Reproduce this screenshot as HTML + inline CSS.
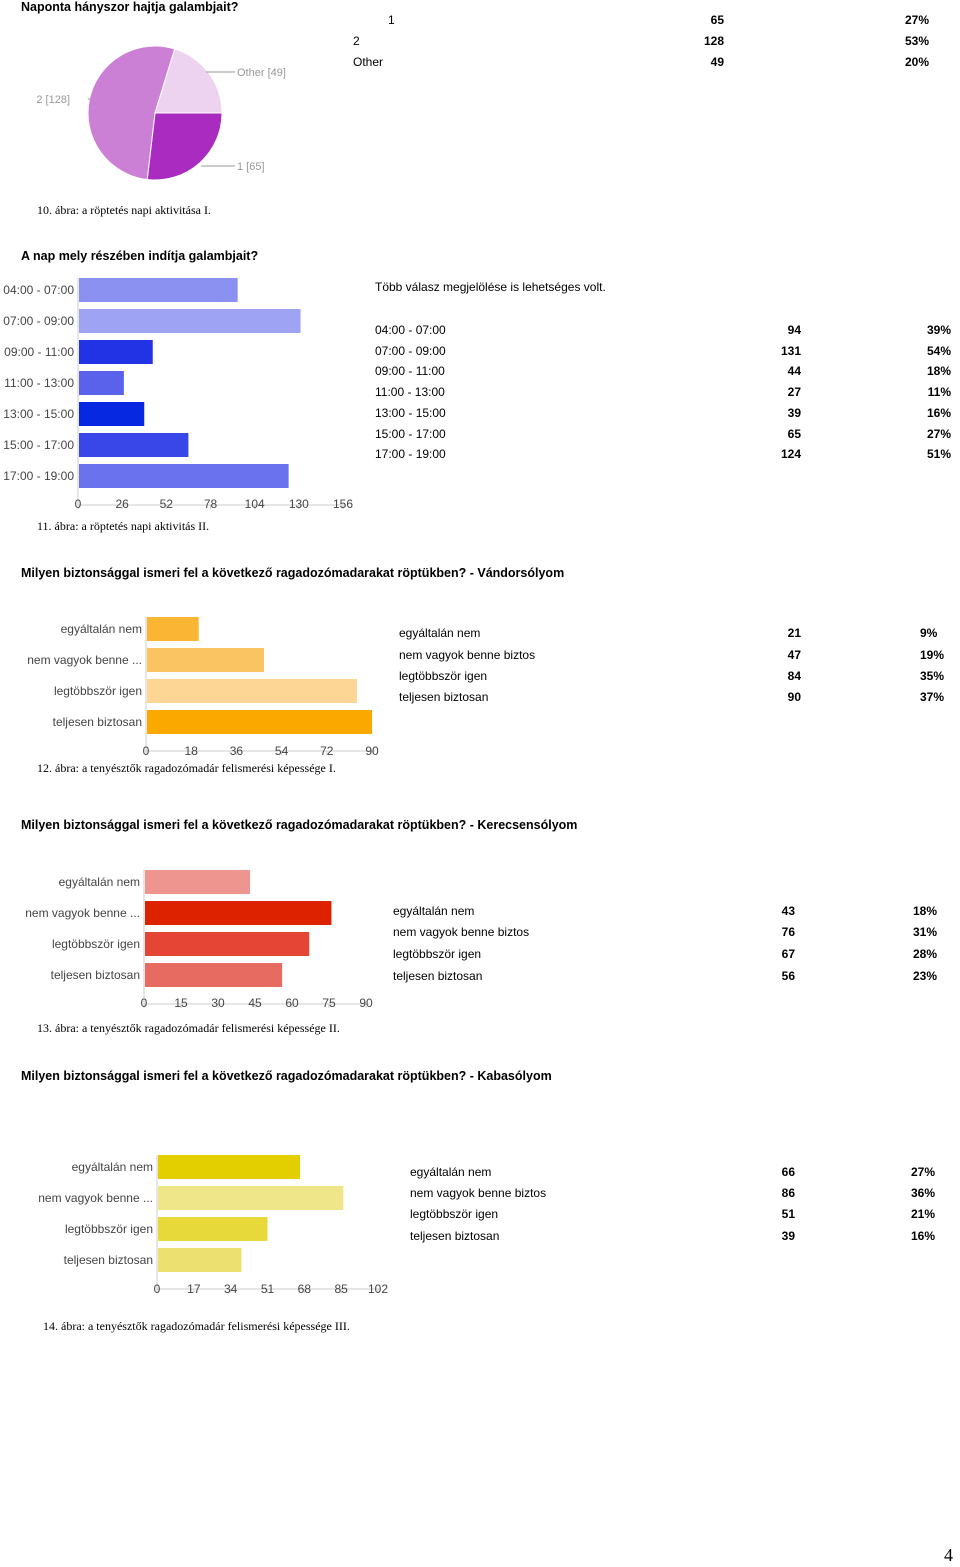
<!DOCTYPE html>
<html><head><meta charset="utf-8">
<style>
body{margin:0;width:960px;height:1567px;background:#fff;position:relative;font-family:"Liberation Sans",Arial,sans-serif;overflow:hidden}
.a{position:absolute;white-space:nowrap}
.h{font-weight:bold;font-size:12.5px;color:#000}
.cap{font-family:"Liberation Serif",serif;font-size:12px;color:#000}
.t{font-size:12px;color:#000}
.b{font-weight:bold}
.r{text-align:right}
svg{position:absolute;left:0;top:0}
</style></head><body>
<div class="a h" style="left:21px;top:0px">Naponta hányszor hajtja galambjait?</div>
<div class="a t" style="left:388px;top:13px">1</div>
<div class="a t b r" style="left:660px;width:64px;top:13px">65</div>
<div class="a t b r" style="left:860px;width:69px;top:13px">27%</div>
<div class="a t" style="left:353px;top:34px">2</div>
<div class="a t b r" style="left:660px;width:64px;top:34px">128</div>
<div class="a t b r" style="left:860px;width:69px;top:34px">53%</div>
<div class="a t" style="left:353px;top:55px">Other</div>
<div class="a t b r" style="left:660px;width:64px;top:55px">49</div>
<div class="a t b r" style="left:860px;width:69px;top:55px">20%</div>
<div class="a cap" style="left:37px;top:203px">10. ábra: a röptetés napi aktivitása I.</div>

<div class="a h" style="left:21px;top:249px">A nap mely részében indítja galambjait?</div>
<div class="a t" style="left:375px;top:280px">Több válasz megjelölése is lehetséges volt.</div>
<div id="tbl2"></div>
<div class="a cap" style="left:37px;top:519px">11. ábra: a röptetés napi aktivitás II.</div>

<div class="a h" style="left:21px;top:566px">Milyen biztonsággal ismeri fel a következő ragadozómadarakat röptükben? - Vándorsólyom</div>
<div class="a cap" style="left:37px;top:761px">12. ábra: a tenyésztők ragadozómadár felismerési képessége I.</div>
<div class="a h" style="left:21px;top:818px">Milyen biztonsággal ismeri fel a következő ragadozómadarakat röptükben? - Kerecsensólyom</div>
<div class="a cap" style="left:37px;top:1021px">13. ábra: a tenyésztők ragadozómadár felismerési képessége II.</div>
<div class="a h" style="left:21px;top:1069px">Milyen biztonsággal ismeri fel a következő ragadozómadarakat röptükben? - Kabasólyom</div>
<div class="a cap" style="left:43px;top:1319px">14. ábra: a tenyésztők ragadozómadár felismerési képessége III.</div>
<div class="a" style="left:944px;top:1545px;font-family:'Liberation Serif',serif;font-size:18px">4</div>

<svg id="svg" width="960" height="1567"></svg>
<script>
const pieCats=["1","2","Other"];
const pieVals=[65,128,49];
const c2Cats=["04:00 - 07:00","07:00 - 09:00","09:00 - 11:00","11:00 - 13:00","13:00 - 15:00","15:00 - 17:00","17:00 - 19:00"];
const c2Vals=[94,131,44,27,39,65,124];
const c2Pcts=["39%","54%","18%","11%","16%","27%","51%"];
const c2Ticks=[0,26,52,78,104,130,156];
const rCats=["egyáltalán nem","nem vagyok benne ...","legtöbbször igen","teljesen biztosan"];
const rCatsFull=["egyáltalán nem","nem vagyok benne biztos","legtöbbször igen","teljesen biztosan"];
const c3Vals=[21,47,84,90];
const c3Pcts=["9%","19%","35%","37%"];
const c3Ticks=[0,18,36,54,72,90];
const c4Vals=[43,76,67,56];
const c4Pcts=["18%","31%","28%","23%"];
const c4Ticks=[0,15,30,45,60,75,90];
const c5Vals=[66,86,51,39];
const c5Pcts=["27%","36%","21%","16%"];
const c5Ticks=[0,17,34,51,68,85,102];

const NS="http://www.w3.org/2000/svg";
const svg=document.getElementById('svg');
function mk(tag,attrs,parent){const e=document.createElementNS(NS,tag);for(const k in attrs)e.setAttribute(k,attrs[k]);(parent||svg).appendChild(e);return e;}
function txt(x,y,s,anchor,size,fill,parent){const e=mk('text',{x:x,y:y,'text-anchor':anchor,'font-size':size,fill:fill,'font-family':'Liberation Sans, Arial, sans-serif'},parent);e.textContent=s;return e;}

// pie
(function(){
  const cx=155,cy=113,r=67,cols=["#aa2bbf","#cc80d5","#eed3f0"];
  const tot=pieVals.reduce((a,b)=>a+b,0);let a0=0;
  pieVals.forEach((v,i)=>{
    const a1=a0+v/tot*2*Math.PI;
    const x0=cx+r*Math.cos(a0),y0=cy+r*Math.sin(a0),x1=cx+r*Math.cos(a1),y1=cy+r*Math.sin(a1);
    const p=mk('path',{d:`M${cx},${cy}L${x0},${y0}A${r},${r} 0 ${a1-a0>Math.PI?1:0} 1 ${x1},${y1}Z`,fill:cols[i],stroke:'#fff','stroke-width':1});
    
    
    a0=a1;
  });
  const lbl=[[201,166,237,"1 ["+pieVals[0]+"]","start"],[88,99,73,"2 ["+pieVals[1]+"]","end"],[206,72,237,"Other ["+pieVals[2]+"]","start"]];
  lbl.forEach(l=>{mk('line',{x1:l[0],y1:l[1],x2:l[4]=="start"?l[2]-2:l[2]+17,y2:l[1],stroke:'#999'});
    const t=txt(l[4]=="start"?l[2]:l[2]-3,l[1]+4,l[3],l[4],11,'#999');
    
    });
})();

function bar(cfg){
  const {cats,vals,ticks,x0,x1,y0,step,h,cols,tickY,name}=cfg;
  const max=ticks[ticks.length-1];
  const sx=v=>x0+(v/max)*(x1-x0);
  const g=mk('g',{});
  
  
  mk('line',{x1:x0,y1:y0-12,x2:x0,y2:y0+step*cats.length-2,stroke:'#ccc'},g);
  mk('line',{x1:x0,y1:y0+step*cats.length-2,x2:x1+3,y2:y0+step*cats.length-2,stroke:'#ccc'},g);
  vals.forEach((v,i)=>{
    const cy=y0+i*step;
    const b=mk('rect',{x:x0+1,y:cy-h/2,width:sx(v)-x0-1,height:h,fill:cols[i]},g);
    
    
    const l=txt(x0-4,cy+4,cats[i],'end',12,'#444',g);
    
    
  });
  ticks.forEach(t=>{
    mk('line',{x1:sx(t),y1:y0+step*cats.length-2,x2:sx(t),y2:y0+step*cats.length+2,stroke:'#ccc'},g);
    const e=txt(sx(t),tickY,String(t),'middle',12,'#444',g);
    
    
  });
}
bar({cats:c2Cats,vals:c2Vals,ticks:c2Ticks,x0:78,x1:343,y0:290,step:31,h:24,cols:["#8a91f0","#9fa3f3","#2233e6","#5a62ec","#0628e0","#3a47e8","#6a72ee"],tickY:508,name:'chart-flight-times'});
bar({cats:rCats,vals:c3Vals,ticks:c3Ticks,x0:146,x1:372,y0:629,step:31,h:24,cols:["#fbb534","#fbc463","#fdd594","#fba800"],tickY:755,name:'chart-vandorsolyom'});
bar({cats:rCats,vals:c4Vals,ticks:c4Ticks,x0:144,x1:366,y0:882,step:31,h:24,cols:["#ee9590","#dd2200","#e44535","#e86b62"],tickY:1007,name:'chart-kerecsensolyom'});
bar({cats:rCats,vals:c5Vals,ticks:c5Ticks,x0:157,x1:378,y0:1167,step:31,h:24,cols:["#e3cf00","#efe68a","#e8d93a","#ece070"],tickY:1293,name:'chart-kabasolyom'});

// tables
function table(cats,vals,pcts,lx,cx,px,ys,rightPct){
  cats.forEach((c,i)=>{
    const y=ys[i];
    let d=document.createElement('div');d.className='a t';d.style.left=lx+'px';d.style.top=(y-7)+'px';d.textContent=c;
    
    
    document.body.appendChild(d);
    d=document.createElement('div');d.className='a t b r';d.style.left=(cx-60)+'px';d.style.width='60px';d.style.top=(y-7)+'px';d.textContent=vals[i];
    
    
    document.body.appendChild(d);
    d=document.createElement('div');d.className='a t b'+(rightPct?' r':'');
    if(rightPct){d.style.left=(px-60)+'px';d.style.width='60px';}else d.style.left=px+'px';
    d.style.top=(y-7)+'px';d.textContent=pcts[i];
    
    
    document.body.appendChild(d);
  });
}
table(c2Cats,c2Vals,c2Pcts,375,801,951,[330,351,371,392,413,434,454],true);
table(rCatsFull,c3Vals,c3Pcts,399,801,920,[633,655,676,697],false);
table(rCatsFull,c4Vals,c4Pcts,393,795,913,[911,932,954,976],false);
table(rCatsFull,c5Vals,c5Pcts,410,795,911,[1172,1193,1214,1236],false);
</script>
</body></html>
